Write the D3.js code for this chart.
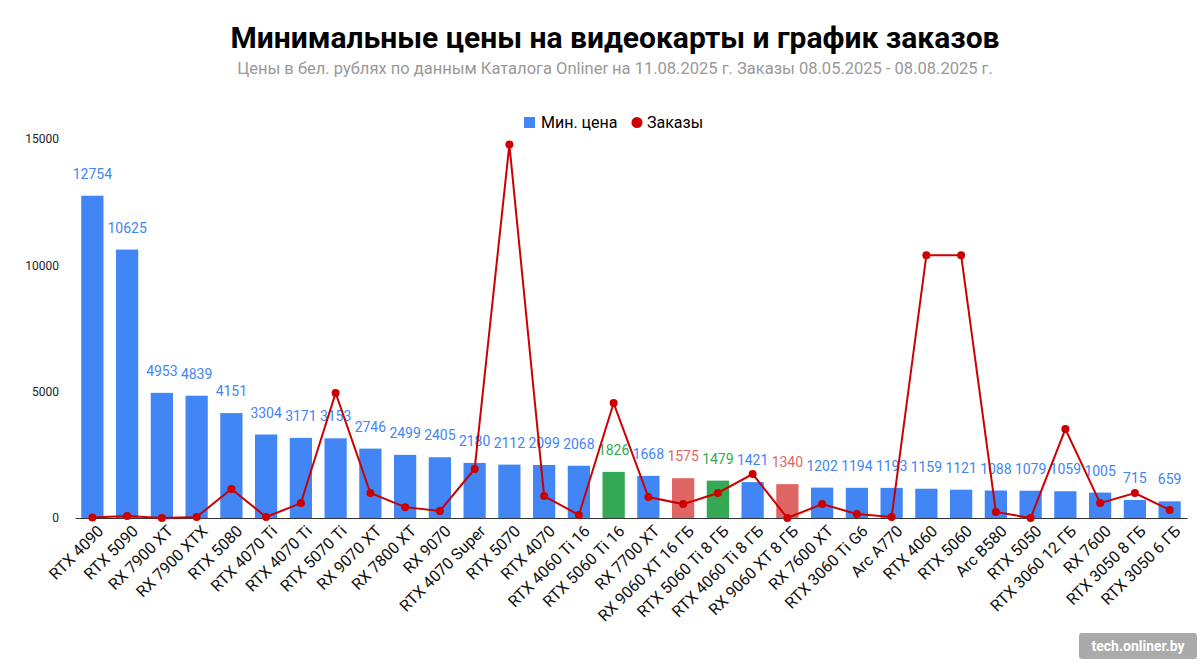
<!DOCTYPE html>
<html><head><meta charset="utf-8">
<script src="https://cdn.jsdelivr.net/npm/d3@7"></script>
<style>body{margin:0;background:#fff;font-family:Roboto,Arial,sans-serif}</style>
</head><body><svg id="c" width="1200" height="667"></svg>
<script>
const categories=["RTX 4090","RTX 5090","RX 7900 XT","RX 7900 XTX","RTX 5080","RTX 4070 Ti","RTX 4070 Ti","RTX 5070 Ti","RX 9070 XT","RX 7800 XT","RX 9070","RTX 4070 Super","RTX 5070","RTX 4070","RTX 4060 Ti 16","RTX 5060 Ti 16","RX 7700 XT","RX 9060 XT 16 ГБ","RTX 5060 Ti 8 ГБ","RTX 4060 Ti 8 ГБ","RX 9060 XT 8 ГБ","RX 7600 XT","RTX 3060 Ti G6","Arc A770","RTX 4060","RTX 5060","Arc B580","RTX 5050","RTX 3060 12 ГБ","RX 7600","RTX 3050 8 ГБ","RTX 3050 6 ГБ"];
const prices=[12754,10625,4953,4839,4151,3304,3171,3153,2746,2499,2405,2180,2112,2099,2068,1826,1668,1575,1479,1421,1340,1202,1194,1193,1159,1121,1088,1079,1059,1005,715,659];
const orders=[20,80,0,40,1150,40,590,4950,990,430,280,1940,14780,870,120,4550,830,550,990,1740,0,550,160,40,10400,10400,240,0,3520,590,990,320];
const highlight=["","","","","","","","","","","","","","","","g","","r","g","","r","","","","","","","","","","",""];
const yTicks=[0,5000,10000,15000];
const colors={"":"#4285f4",g:"#34a853",r:"#e06666"};
const svg=d3.select("#c");
svg.append("text").attr("x",615).attr("y",48).attr("text-anchor","middle").attr("font-size",30).attr("font-weight","bold").attr("fill","#000").text("Минимальные цены на видеокарты и график заказов");
svg.append("text").attr("x",615).attr("y",74).attr("text-anchor","middle").attr("font-size",16.5).attr("fill","#999").text("Цены в бел. рублях по данным Каталога Onliner на 11.08.2025 г. Заказы 08.05.2025 - 08.08.2025 г.");
const idx=d3.range(categories.length);
const x=d3.scaleBand().domain(idx).range([75,1187]).paddingInner(0.36).paddingOuter(0.18);
const cx=i=>x(i)+x.bandwidth()/2;
const y=d3.scaleLinear().domain([0,15000]).range([518,139]);
const ya=svg.append("g").attr("transform","translate(62,0)").call(d3.axisLeft(y).tickValues(yTicks).tickSize(0).tickFormat(d3.format("d")));
ya.select(".domain").remove();ya.selectAll("text").attr("font-size",12).attr("fill","#222").attr("font-family","Roboto,Arial");
svg.selectAll(".bar").data(prices).join("rect").attr("x",(d,i)=>x(i)).attr("y",d=>y(d)).attr("width",x.bandwidth()).attr("height",d=>y(0)-y(d)).attr("fill",(d,i)=>colors[highlight[i]]);
svg.selectAll(".vl").data(prices).join("text").attr("x",(d,i)=>cx(i)).attr("y",d=>y(d)-17).attr("text-anchor","middle").attr("font-size",14).attr("fill",(d,i)=>colors[highlight[i]]).text(d=>d);
const ax=svg.append("g").attr("transform","translate(0,518)").call(d3.axisBottom(x).tickSize(0).tickFormat(i=>categories[i]));
ax.select(".domain").attr("stroke","#333");
ax.selectAll("text").attr("font-size",16).attr("fill","#111").attr("font-family","Roboto,Arial").attr("text-anchor","end").attr("transform","translate(6,8) rotate(-45)").attr("dy","0.35em");
const line=d3.line().x((d,i)=>cx(i)).y(d=>y(d));
svg.append("path").datum(orders).attr("d",line).attr("fill","none").attr("stroke","#cc0000").attr("stroke-width",2);
svg.selectAll(".pt").data(orders).join("circle").attr("cx",(d,i)=>cx(i)).attr("cy",d=>y(d)).attr("r",4).attr("fill","#cc0000");
const lg=svg.append("g");
lg.append("rect").attr("x",524).attr("y",117).attr("width",11).attr("height",11).attr("fill","#4285f4");
lg.append("text").attr("x",541).attr("y",128).attr("font-size",16).text("Мин. цена");
lg.append("circle").attr("cx",637).attr("cy",122.5).attr("r",5.5).attr("fill","#cc0000");
lg.append("text").attr("x",647).attr("y",128).attr("font-size",16).text("Заказы");
svg.append("rect").attr("x",1079).attr("y",633).attr("width",118).attr("height",26).attr("rx",3).attr("fill","#aaa");
svg.append("text").attr("x",1138).attr("y",651).attr("text-anchor","middle").attr("font-size",14).attr("font-weight","bold").attr("fill","#fff").text("tech.onliner.by");
</script></body></html>
